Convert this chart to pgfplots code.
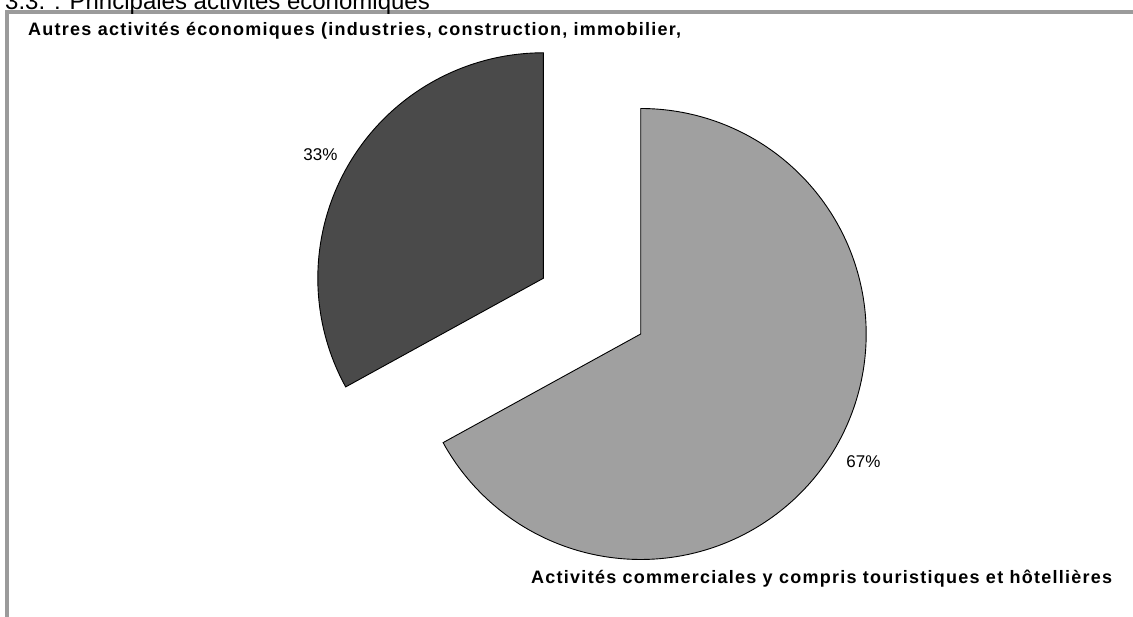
\documentclass[border=0pt]{standalone}
\usepackage{fontspec}
\setmainfont{Liberation Sans}
\newfontfamily\lblfont[LetterSpace=7]{Liberation Sans}
\usepackage{pgfplots}
\pgfplotsset{compat=1.18}
\definecolor{darkslice}{RGB}{74,74,74}
\definecolor{lightslice}{RGB}{160,160,160}
\definecolor{framegray}{RGB}{155,155,155}
% data (percent)
\def\valA{33}% Autres activites economiques
\def\valB{67}% Activites commerciales
\begin{document}
\begin{tikzpicture}
\useasboundingbox (0,0) rectangle (1133pt,617pt);
\clip (0,0) rectangle (1133pt,617pt);
\begin{axis}[
  at={(0,0)}, anchor=south west,
  scale only axis, width=1133pt, height=617pt,
  xmin=0, xmax=1133, ymin=0, ymax=617,
  hide axis, clip=false,
]
\pgfmathsetmacro{\angA}{90+3.6*\valA}
% small slice (exploded)
\addplot[fill=darkslice, draw=black, line width=0.9pt, domain=90:\angA, samples=120, variable=\t]
  ({543.3+225.5*cos(t)}, {338.7+225.5*sin(t)}) -- (axis cs:543.3,338.7) -- cycle;
% large slice
\addplot[fill=lightslice, draw=black, line width=0.9pt, domain=\angA:450, samples=200, variable=\t]
  ({640.7+225.5*cos(t)}, {283+225.5*sin(t)}) -- (axis cs:640.7,283) -- cycle;
% percent labels
\node[font=\fontsize{17}{20}\selectfont] at (axis cs:320.5,462) {33\%};
\node[font=\fontsize{17}{20}\selectfont] at (axis cs:863.5,155) {67\%};
% category labels
\node[anchor=base west, inner sep=0pt, font=\lblfont\bfseries\fontsize{18}{21}\selectfont] at (axis cs:28,581)
  {Autres activités économiques (industries, construction, immobilier,};
\node[anchor=base west, inner sep=0pt, font=\lblfont\bfseries\fontsize{18}{21}\selectfont] at (axis cs:531,33)
  {Activités commerciales y compris touristiques et hôtellières};
% frame
\draw[framegray, line width=4pt] (axis cs:7,0) -- (axis cs:7,604.5) -- (axis cs:1140,604.5);
% cut-off title
\node[anchor=base west, inner sep=0pt, font=\fontsize{24}{28}\selectfont] at (axis cs:5,607.5)
  {3.3. : Principales activités économiques};
\end{axis}
\end{tikzpicture}
\end{document}
